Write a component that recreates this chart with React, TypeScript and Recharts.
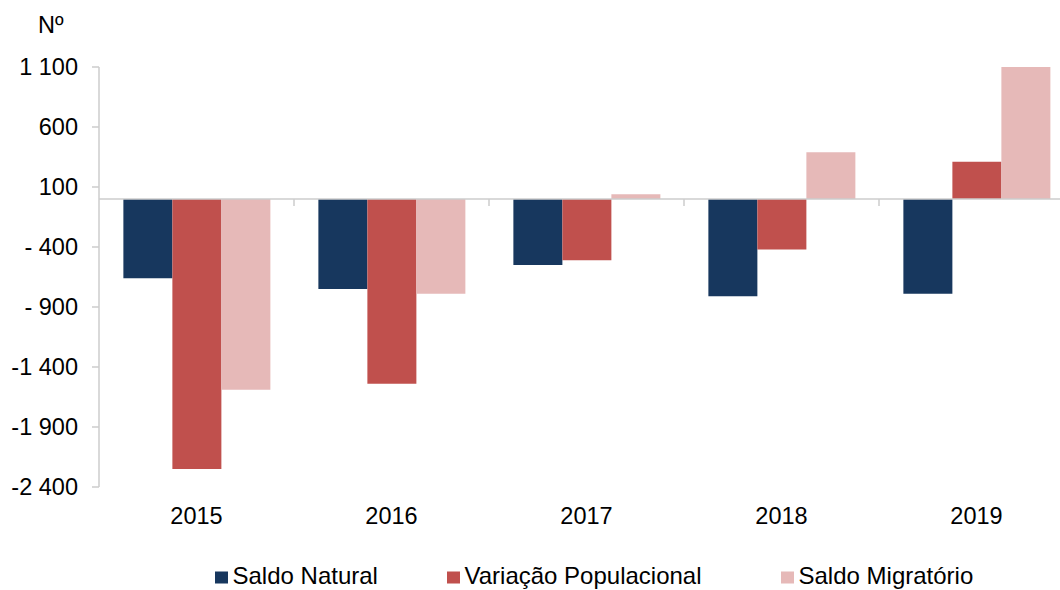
import { BarChart, Bar, XAxis, YAxis, ReferenceLine } from "recharts"

const YEARS = ["2015", "2016", "2017", "2018", "2019"]
const SALDO_NATURAL = [-660, -750, -550, -810, -790]
const VARIACAO_POP = [-2250, -1540, -510, -420, 310]
const SALDO_MIGRATORIO = [-1590, -790, 40, 390, 1100]

const Y_TICKS = [-2400, -1900, -1400, -900, -400, 100, 600, 1100]
const Y_TICK_LABELS = ["-2 400", "-1 900", "-1 400", "- 900", "- 400", "100", "600", "1 100"]

const SERIES = [
  { key: "natural", name: "Saldo Natural", color: "#17375e" },
  { key: "variacao", name: "Variação Populacional", color: "#c0504d" },
  { key: "migratorio", name: "Saldo Migratório", color: "#e6b9b8" },
]

const data = YEARS.map((year, i) => ({
  year,
  natural: SALDO_NATURAL[i],
  variacao: VARIACAO_POP[i],
  migratorio: SALDO_MIGRATORIO[i],
}))

const FONT = "'Liberation Sans', Arial, sans-serif"
const FS = 23.5
const LEGEND_FS = 24
const LEGEND_X = [215, 447, 781]
const W = 1080
const H = 590
const M = { top: 67, right: 6, bottom: 0, left: 0 }
const Y_AXIS_W = 99
const X_AXIS_H = 103
const PLOT_W = W - M.left - M.right - Y_AXIS_W
const PLOT_H = H - M.top - M.bottom - X_AXIS_H
const Y_MIN = -2400
const Y_MAX = 1100
const ZERO_Y = M.top + (PLOT_H * Y_MAX) / (Y_MAX - Y_MIN)
const BAND = PLOT_W / YEARS.length
const AXIS_GRAY = "#cccccc"

function YearTick(props: any) {
  const { x, y, payload, index } = props
  return (
    <g>
      {index > 0 && (
        <line x1={x - BAND / 2} x2={x - BAND / 2} y1={ZERO_Y} y2={ZERO_Y + 7} stroke={AXIS_GRAY} strokeWidth={1.5} />
      )}
      <text x={x} y={y + 36.5} textAnchor="middle" fontSize={FS} fill="#000" fontFamily={FONT}>
        {payload.value}
      </text>
    </g>
  )
}

export default function App() {
  return (
    <div style={{ position: "absolute", left: 0, top: 0, width: 1060, height: 590, overflow: "hidden", fontFamily: FONT, background: "#fff" }}>
      <div style={{ position: "absolute", left: 38, top: 14, fontSize: FS, lineHeight: `${FS}px`, color: "#000" }}>Nº</div>
      <BarChart width={W} height={H} data={data} margin={M} barCategoryGap="12.5%" barGap={0}>
        <XAxis
          dataKey="year"
          height={X_AXIS_H}
          axisLine={false}
          tickLine={false}
          tickSize={0}
          tickMargin={0}
          interval={0}
          tick={<YearTick />}
        />
        <YAxis
          domain={[Y_MIN, Y_MAX]}
          ticks={Y_TICKS}
          width={Y_AXIS_W}
          tickSize={7}
          tickMargin={14}
          axisLine={{ stroke: AXIS_GRAY, strokeWidth: 1.5 }}
          tickLine={{ stroke: AXIS_GRAY, strokeWidth: 1.5 }}
          tick={{ fontSize: FS, fill: "#000", fontFamily: FONT }}
          tickFormatter={(v: number) => Y_TICK_LABELS[Y_TICKS.indexOf(v)] ?? String(v)}
          interval={0}
        />
        {SERIES.map((s) => (
          <Bar key={s.key} dataKey={s.key} name={s.name} fill={s.color} isAnimationActive={false} />
        ))}
        <ReferenceLine y={0} stroke={AXIS_GRAY} strokeWidth={1.5} />
      </BarChart>
      {SERIES.map((s, i) => (
        <div
          key={s.key}
          style={{
            position: "absolute", left: LEGEND_X[i], top: 564, display: "flex", alignItems: "center", gap: 5,
            fontSize: LEGEND_FS, lineHeight: `${LEGEND_FS}px`, color: "#000", whiteSpace: "nowrap",
          }}
        >
          <span style={{ display: "inline-block", width: 12.5, height: 12.5, background: s.color, transform: "translateY(1.5px)" }} />
          <span>{s.name}</span>
        </div>
      ))}
    </div>
  )
}
